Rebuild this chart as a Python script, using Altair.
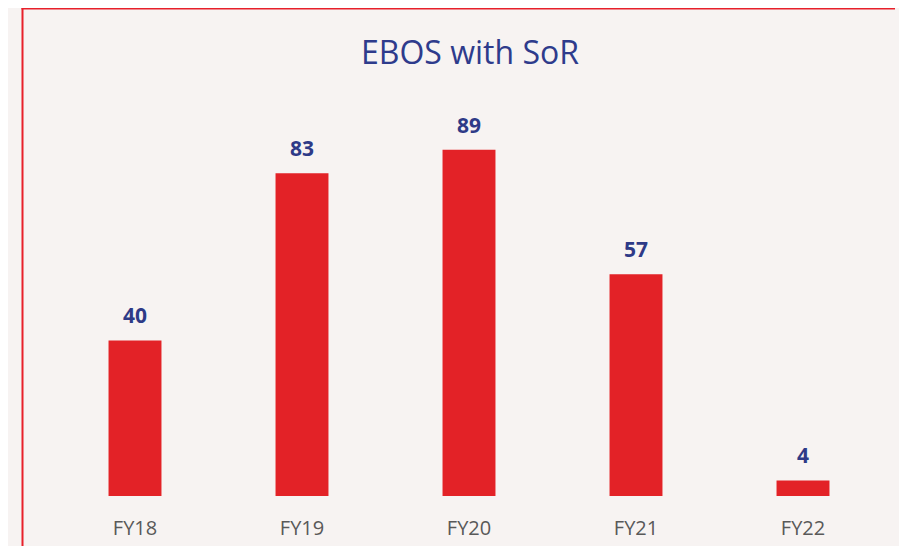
import altair as alt
import pandas as pd

categories = ["FY18", "FY19", "FY20", "FY21", "FY22"]
values = [40, 83, 89, 57, 4]
title_text = "EBOS with SoR"

df = pd.DataFrame({"cat": categories, "val": values})

W, H = 891, 538
x_scale = alt.Scale(domain=categories, range=[43.5, 878.5], paddingInner=0.683, paddingOuter=0.3415)
y_scale = alt.Scale(domain=[0, 100], range=[488, 99])

base = alt.Chart(df)

bars = base.mark_bar(color="#E32227").encode(
    x=alt.X("cat:N", scale=x_scale, axis=None, sort=categories),
    y=alt.Y("val:Q", scale=y_scale, axis=None),
)

labels = base.mark_text(
    font="Open Sans", fontSize=21, fontWeight="bold", color="#2E3A87",
    baseline="alphabetic", dy=-17,
).encode(
    x=alt.X("cat:N", scale=x_scale, axis=None, sort=categories),
    y=alt.Y("val:Q", scale=y_scale, axis=None),
    text=alt.Text("val:Q"),
)

xlabels = base.mark_text(
    font="Open Sans", fontSize=20, color="#595959", baseline="alphabetic",
).encode(
    x=alt.X("cat:N", scale=x_scale, axis=None, sort=categories),
    y=alt.value(527),
    text=alt.Text("cat:N"),
)

title = alt.Chart(pd.DataFrame({"t": [title_text]})).mark_text(
    font="Open Sans", fontSize=32, color="#2E3B8C", baseline="alphabetic", align="center",
).encode(x=alt.value(462), y=alt.value(56), text="t:N")

border_left = alt.Chart(pd.DataFrame({"a": [0]})).mark_rect(color="#E8202A").encode(
    x=alt.value(13.5), x2=alt.value(15.5), y=alt.value(0), y2=alt.value(H)
)
border_top = alt.Chart(pd.DataFrame({"a": [0]})).mark_rect(color="#E8202A").encode(
    x=alt.value(13.5), x2=alt.value(W - 4), y=alt.value(0), y2=alt.value(1.5)
)

chart = alt.layer(bars, labels, xlabels, title, border_left, border_top).properties(
    width=W, height=H, autosize=alt.AutoSizeParams(type="none"), padding=0,
    background="#F7F3F2",
).configure_view(stroke=None, strokeWidth=0)

chart.save("out.html", embed_options={"renderer": "svg", "actions": False})
